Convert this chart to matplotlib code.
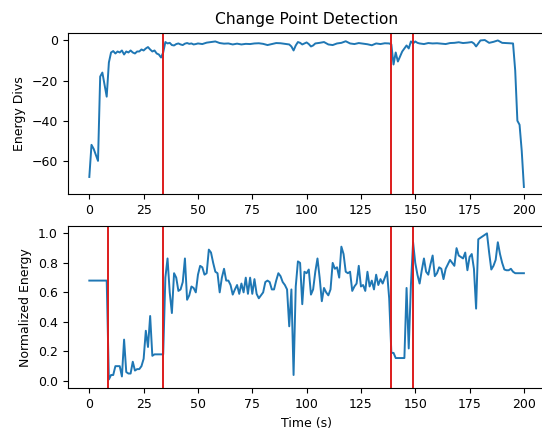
import matplotlib
matplotlib.use("Agg")
import matplotlib.pyplot as plt

# Top series: energy divergence
t_top = [0, 1, 2, 3, 4, 5, 6, 7, 8, 9, 10, 11, 12, 13, 14, 15, 16, 17, 18, 19,
         20, 21, 22, 23, 24, 25, 26, 27, 28, 29, 30, 31, 32, 33, 34, 35, 36, 37, 38, 39,
         40, 41, 42, 43, 44, 45, 46, 47, 48, 49, 50, 52, 54, 56, 58, 60, 62, 64, 66, 68,
         70, 72, 74, 76, 78, 80, 82, 84, 86, 88, 90, 92, 93, 94, 95, 96, 97, 98, 99, 100,
         101, 102, 103, 104, 106, 108, 110, 112, 114, 116, 118, 120, 122, 124, 126, 128, 130, 132, 134, 136,
         138, 139, 140, 141, 142, 143, 144, 145, 146, 147, 148, 149, 150, 151, 152, 154, 156, 158, 160, 162,
         164, 166, 168, 170, 172, 174, 176, 177, 178, 179, 180, 182, 183, 184, 186, 188, 190, 192, 194, 195,
         196, 197, 198, 199, 200]
e_top = [-68, -52, -54, -57, -60, -18, -16, -22, -28, -11, -6, -5.3, -6.5, -5.5, -6, -5, -7, -5.5, -6, -5,
         -6, -6.5, -5.5, -5.5, -4.5, -5, -4, -3.3, -4.5, -5.5, -5, -6.5, -7, -8.5, -6, -0.8, -1.5, -1.2, -2.3, -2.5,
         -1.8, -1.5, -2, -2.3, -1.6, -1.3, -1.7, -1.5, -2, -1.8, -1.5, -1.8, -1.1, -0.8, -0.5, -1.3, -1.6, -1.5, -2, -1.6,
         -2, -1.7, -1.8, -1.5, -1.4, -1.7, -2.3, -1.8, -1.3, -1.4, -1.7, -2, -3, -5, -2.5, -0.8, -1.2, -2, -1.5, -1,
         -1.8, -3, -2.5, -1.5, -1.2, -0.8, -2, -2.3, -1.5, -1.2, -0.4, -1.5, -1.8, -1.3, -1.6, -1.9, -2.4, -1.5, -1.8, -1.4,
         -1.5, -2, -12, -6, -10.5, -8, -5.5, -4, -2.5, -4, -0.5, -1.5, -0.5, -1.2, -1.5, -1.8, -1.3, -1.5, -1.4, -1.6,
         -1.8, -1.3, -1.2, -0.9, -1.3, -1.1, -0.8, -1.5, -3, -1.5, 0, 0.2, -0.5, -1.2, -0.7, 0, -1.2, -1.3, -1.4, -1.5,
         -15, -40, -42, -55, -73]

# Bottom series: normalized energy
t_bot = list(range(0, 197)) + [200]
n_bot = [0.68, 0.68, 0.68, 0.68, 0.68, 0.68, 0.68, 0.68, 0.68, 0.01,
         0.04, 0.04, 0.1, 0.1, 0.1, 0.03, 0.28, 0.06, 0.05, 0.05,
         0.13, 0.07, 0.08, 0.08, 0.1, 0.15, 0.34, 0.23, 0.44, 0.17,
         0.18, 0.18, 0.18, 0.18, 0.18, 0.7, 0.83, 0.6, 0.46, 0.73,
         0.7, 0.61, 0.62, 0.67, 0.83, 0.55, 0.58, 0.64, 0.63, 0.6,
         0.72, 0.78, 0.77, 0.72, 0.73, 0.89, 0.87, 0.8, 0.74, 0.73,
         0.6, 0.7, 0.76, 0.68, 0.68, 0.65, 0.585, 0.62, 0.65, 0.59,
         0.66, 0.6, 0.7, 0.59, 0.7, 0.59, 0.69, 0.59, 0.56, 0.58,
         0.6, 0.67, 0.68, 0.67, 0.62, 0.62, 0.68, 0.73, 0.71, 0.67,
         0.65, 0.62, 0.37, 0.62, 0.04, 0.64, 0.81, 0.8, 0.52, 0.74,
         0.73, 0.755, 0.585, 0.62, 0.74, 0.83, 0.7, 0.54, 0.63, 0.6,
         0.58, 0.62, 0.8, 0.76, 0.77, 0.7, 0.91, 0.86, 0.74, 0.73,
         0.74, 0.61, 0.64, 0.66, 0.78, 0.64, 0.65, 0.61, 0.74, 0.64,
         0.68, 0.62, 0.72, 0.65, 0.69, 0.66, 0.7, 0.74, 0.56, 0.19,
         0.19, 0.155, 0.155, 0.155, 0.155, 0.155, 0.63, 0.22, 0.65, 0.94,
         0.8, 0.72, 0.66, 0.75, 0.83, 0.74, 0.72, 0.79, 0.85, 0.71,
         0.73, 0.77, 0.76, 0.69, 0.76, 0.79, 0.82, 0.8, 0.78, 0.9,
         0.85, 0.84, 0.83, 0.87, 0.75, 0.84, 0.86, 0.76, 0.49, 0.96,
         0.97, 0.98, 0.99, 1.0, 0.87, 0.755, 0.78, 0.82, 0.94, 0.86,
         0.8, 0.755, 0.75, 0.75, 0.76, 0.74, 0.73, 0.73]

cp_top = [34, 139, 149]
cp_bot = [8.5, 34, 139, 149]

title = "Change Point Detection"
ylabel_top = "Energy Divs"
ylabel_bot = "Normalized Energy"
xlabel = "Time (s)"

plt.rcParams['font.size'] = 9
fig = plt.figure(figsize=(5.42, 4.29), dpi=100)
ax1 = fig.add_axes([0.1247, 0.547, 0.882, 0.3768])
ax2 = fig.add_axes([0.1247, 0.0949, 0.882, 0.3783])

line_c = '#1f77b4'
red_c = '#dd1c1c'

ax1.plot(t_top, e_top, color=line_c, lw=1.4)
for c in cp_top:
    ax1.axvline(c, color=red_c, lw=1.4)
ax1.set_title(title, fontsize=11.2)
ax1.set_ylabel(ylabel_top)
ax1.set_xlim(-10, 210)
ax1.set_xticks([0, 25, 50, 75, 100, 125, 150, 175, 200])
ax1.set_yticks([0, -20, -40, -60])

ax2.plot(t_bot, n_bot, color=line_c, lw=1.4)
for c in cp_bot:
    ax2.axvline(c, color=red_c, lw=1.4)
ax2.set_ylabel(ylabel_bot)
ax2.set_xlabel(xlabel)
ax2.set_xlim(-10, 210)
ax2.set_ylim(-0.05, 1.05)
ax2.set_xticks([0, 25, 50, 75, 100, 125, 150, 175, 200])
ax2.set_yticks([0.0, 0.2, 0.4, 0.6, 0.8, 1.0])

fig.savefig("out.png", dpi=100)
